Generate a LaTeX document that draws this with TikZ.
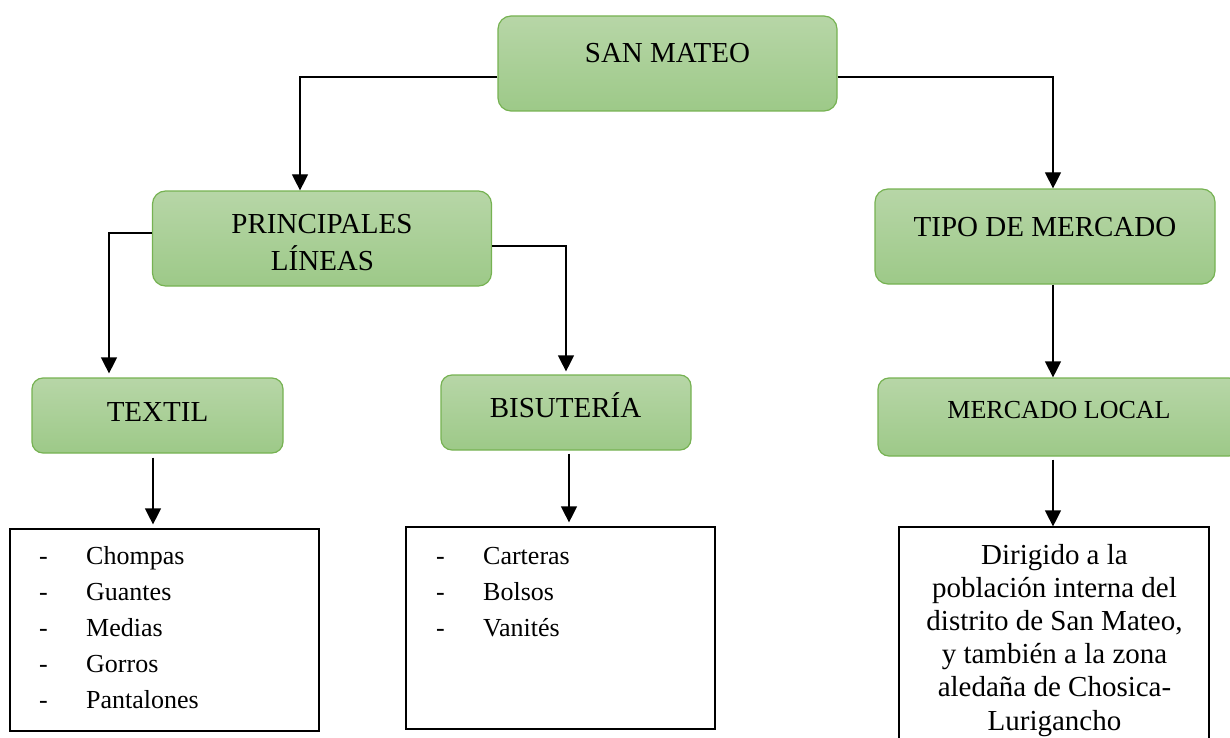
\documentclass[tikz,border=0pt]{standalone}
\usepackage{fontspec}
\setmainfont{Liberation Serif}
\usetikzlibrary{arrows.meta}
\definecolor{gtop}{RGB}{183,214,167}
\definecolor{gbot}{RGB}{157,201,136}
\definecolor{gline}{RGB}{118,178,82}
\tikzset{
  gbox/.style={draw=gline, line width=1.2pt, top color=gtop, bottom color=gbot, rounded corners=13pt, inner sep=0pt},
  wbox/.style={draw=black, line width=1.2pt, fill=white, inner sep=0pt},
  bigtxt/.style={font=\fontsize{29}{37}\selectfont, inner sep=0pt},
  smalltxt/.style={font=\fontsize{26}{36}\selectfont, inner sep=0pt},
  desctxt/.style={font=\fontsize{29}{33.2}\selectfont, inner sep=0pt, align=center},
  conn/.style={line width=1.2pt, -{Triangle[width=16pt,length=16pt]}},
}
\newcommand{\itm}[1]{\makebox[47pt][l]{-}#1}
\begin{document}
\begin{tikzpicture}[x=1pt,y=-1pt]
\useasboundingbox (0,0) rectangle (1230,738);
% green boxes
\node[gbox, minimum width=339pt, minimum height=95pt] (sm) at (667.5,63.5) {};
\node[bigtxt, anchor=base] (smt) at (667.5,63) {SAN MATEO};
\node[gbox, minimum width=339pt, minimum height=95pt] (pl) at (322,238.5) {};
\node[bigtxt, anchor=base] (plt1) at (322,233) {PRINCIPALES};
\node[bigtxt, anchor=base] (plt2) at (322.5,270) {LÍNEAS};
\node[gbox, minimum width=340pt, minimum height=95pt] (tm) at (1045,236.5) {};
\node[bigtxt, anchor=base] (tmt) at (1045,236) {TIPO DE MERCADO};
\node[gbox, rounded corners=11pt, minimum width=251pt, minimum height=75pt] (tx) at (157.5,415.5) {};
\node[bigtxt, anchor=base] (txt) at (157.5,421) {TEXTIL};
\node[gbox, rounded corners=11pt, minimum width=250pt, minimum height=75pt] (bi) at (566,412.5) {};
\node[bigtxt, anchor=base] (bit) at (565.5,417) {BISUTERÍA};
\node[gbox, rounded corners=11pt, minimum width=362pt, minimum height=78pt] (ml) at (1059,417) {};
\node[smalltxt, anchor=base] (mlt) at (1059,418) {MERCADO LOCAL};
% white boxes
\node[wbox, minimum width=309pt, minimum height=202pt] (lb1) at (164.5,630) {};
\node[smalltxt, anchor=base west, align=left] (lb1t) at (39,708)
  {\itm{Chompas}\\\itm{Guantes}\\\itm{Medias}\\\itm{Gorros}\\\itm{Pantalones}};
\node[wbox, minimum width=309pt, minimum height=202pt] (lb2) at (560.5,628) {};
\node[smalltxt, anchor=base west, align=left] (lb2t) at (436,636)
  {\itm{Carteras}\\\itm{Bolsos}\\\itm{Vanités}};
\node[wbox, minimum width=310pt, minimum height=240pt] (db) at (1054,647) {};
\node[desctxt, anchor=base] (dbt) at (1054.5,730)
  {Dirigido a la\\población interna del\\distrito de San Mateo,\\y también a la zona\\aledaña de Chosica-\\Lurigancho};
% connectors
\draw[conn] ([yshift=-13.5pt]sm.west) -| ([xshift=-22pt]pl.north);
\draw[conn] ([yshift=-13.5pt]sm.east) -| ([xshift=8pt]tm.north);
\draw[conn] ([yshift=5.5pt]pl.west) -| ([xshift=-48.5pt,yshift=4pt]tx.north);
\draw[conn] ([yshift=-7.5pt]pl.east) -| ([yshift=3pt]bi.north);
\draw[conn] ([xshift=8pt]tm.south) -- ([xshift=8pt]tm.south |- ml.north);
\draw[conn, shorten <=4pt, shorten >=4pt] ([xshift=-4.5pt]tx.south) -- ([xshift=-4.5pt]tx.south |- lb1.north);
\draw[conn, shorten <=3pt, shorten >=4pt] ([xshift=3pt]bi.south) -- ([xshift=3pt]bi.south |- lb2.north);
\draw[conn, shorten <=3pt] ([xshift=-6pt]ml.south) -- ([xshift=-6pt]ml.south |- db.north);
\end{tikzpicture}
\end{document}
